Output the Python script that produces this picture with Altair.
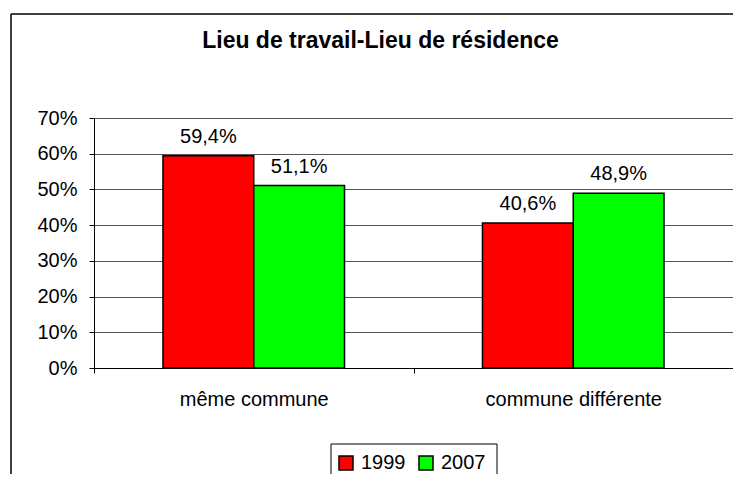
import altair as alt
import pandas as pd

categories = ["même commune", "commune différente"]
years = ["1999", "2007"]
values_1999 = [59.4, 40.6]
values_2007 = [51.1, 48.9]
colors = ["#FF0000", "#00FF00"]
y_ticks = [0, 10, 20, 30, 40, 50, 60, 70]

rows = []
for i, c in enumerate(categories):
    rows.append({"cat": c, "year": years[0], "v": values_1999[i]})
    rows.append({"cat": c, "year": years[1], "v": values_2007[i]})
df = pd.DataFrame(rows)

FONT = "Liberation Sans"
W, H = 639, 250

yaxis = alt.Axis(title=None, values=y_ticks, labelExpr="datum.value + '%'",
                 labelFontSize=20, labelFont=FONT, labelColor="black",
                 labelOverlap=False, labelFlush=False,
                 tickSize=5, labelPadding=12, tickColor="black",
                 domainColor="black", gridColor="#555555", gridWidth=1)
yscale = alt.Scale(domain=[0, 70], nice=False)

base = alt.Chart(df).encode(
    x=alt.X("cat:N", sort=categories,
            scale=alt.Scale(paddingInner=0, paddingOuter=0),
            axis=alt.Axis(title=None, labelAngle=0, tickBand="extent", tickSize=5,
                          labelPadding=16, labelFontSize=20, labelFont=FONT,
                          labelColor="black", domainColor="black", tickColor="black",
                          grid=False)),
    xOffset=alt.XOffset("year:N", sort=years,
                        scale=alt.Scale(paddingInner=0, paddingOuter=0.76)),
    y=alt.Y("v:Q", scale=yscale, axis=yaxis),
)

bars = base.mark_bar(stroke="black", strokeWidth=1.5).encode(
    color=alt.Color("year:N", sort=years,
                    scale=alt.Scale(domain=years, range=colors),
                    legend=alt.Legend(title=None, orient="none", legendX=242, legendY=335,
                                      direction="horizontal", symbolType="square",
                                      symbolSize=196, symbolStrokeColor="black",
                                      symbolStrokeWidth=1.5, labelFontSize=20,
                                      labelFont=FONT, labelColor="black",
                                      labelOffset=5, columnPadding=10, padding=0)),
)

labels = base.mark_text(baseline="bottom", dy=-9, fontSize=20, font=FONT, color="black").encode(
    text=alt.Text("lab:N"),
).transform_calculate(lab="replace(format(datum.v, '.1f'), '.', ',') + '%'")

dummy = pd.DataFrame({"a": [0]})
frame_left = alt.Chart(dummy).mark_rule(color="black", strokeWidth=1.5).encode(
    x=alt.value(-83), y=alt.value(-104), y2=alt.value(400))
frame_top = alt.Chart(dummy).mark_rule(color="black", strokeWidth=1.5).encode(
    x=alt.value(-83), x2=alt.value(700), y=alt.value(-104))
leg_left = alt.Chart(dummy).mark_rule(color="black", strokeWidth=1).encode(
    x=alt.value(237), y=alt.value(326), y2=alt.value(400))
leg_right = alt.Chart(dummy).mark_rule(color="black", strokeWidth=1).encode(
    x=alt.value(403), y=alt.value(326), y2=alt.value(400))
leg_top = alt.Chart(dummy).mark_rule(color="black", strokeWidth=1).encode(
    x=alt.value(237), x2=alt.value(403), y=alt.value(326))

chart = alt.layer(bars, labels, frame_left, frame_top, leg_left, leg_right, leg_top).properties(
    width=W, height=H,
    autosize=alt.AutoSizeParams(type="none"),
    padding={"left": 86, "top": 110, "right": 0, "bottom": 106},
    title=alt.TitleParams("Lieu de travail-Lieu de résidence", font=FONT, fontSize=23,
                          fontWeight="bold", color="black", anchor="middle",
                          frame="group", dx=-33, offset=-63, baseline="bottom"),
).configure_view(fill="#FFFFCC", stroke="#808080", strokeWidth=2
).configure(background="white")

chart.save("out.html", embed_options={"renderer": "svg", "actions": False})
